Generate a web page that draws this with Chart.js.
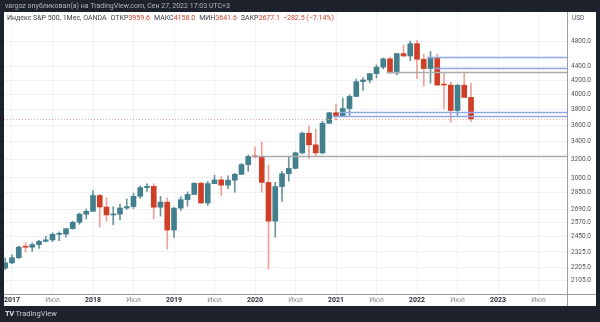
<!DOCTYPE html>
<html lang="ru">
<head>
<meta charset="utf-8">
<title>Индекс S&amp;P 500, 1Мес</title>
<script src="https://cdn.jsdelivr.net/npm/chart.js@4.4.1/dist/chart.umd.min.js"></script>
<style>
  html, body { margin: 0; padding: 0; }
  body { width: 600px; height: 322px; background: #1e222d; position: relative; overflow: hidden; font-family: Roboto, "Noto Sans", sans-serif; }
  #panel { position: absolute; left: 4px; top: 12px; width: 592px; height: 294px; background: #fff; }
  #chart { position: absolute; left: 0; top: 0; }
  .header { position: absolute; left: 5px; top: 2px; font-size: 7px; color: #b2b5be; white-space: nowrap; }
  .legend { position: absolute; left: 7px; top: 14px; font-size: 7px; color: #3b3e48; white-space: nowrap; }
  .legend .k { margin-left: 4px; }
  .legend .v { color: #cf3e27; }
  .legend .chg { margin-left: 3px; }
  .usd { position: absolute; left: 572px; top: 14px; font-size: 6.5px; color: #50535e; }
  .footer { position: absolute; left: 5px; top: 309px; font-size: 7.5px; color: #c8cbd3; white-space: nowrap; }
  .footer b { font-weight: 900; letter-spacing: -0.6px; margin-right: 2px; }
</style>
</head>
<body>
<div id="panel"></div>
<canvas id="chart" width="600" height="322"></canvas>
<div class="header">vargoz опубликовал(а) на TradingView.com, Сен 27, 2022 17:03 UTC+3</div>
<div class="legend">Индекс S&amp;P 500, 1Мес, OANDA<span class="k">ОТКР</span><span class="v" id="lo"></span><span class="k">МАКС</span><span class="v" id="lh"></span><span class="k">МИН</span><span class="v" id="ll"></span><span class="k">ЗАКР</span><span class="v" id="lc"></span><span class="v chg">−282.5 (−7.14%)</span></div>
<div class="usd">USD</div>
<div class="footer"><b>TV</b>TradingView</div>
<script>
// monthly candles, OANDA SPX500 CFD
const months = [
  "2016-12",
  "2017-01", "2017-02", "2017-03", "2017-04", "2017-05", "2017-06", "2017-07", "2017-08", "2017-09", "2017-10", "2017-11", "2017-12",
  "2018-01", "2018-02", "2018-03", "2018-04", "2018-05", "2018-06", "2018-07", "2018-08", "2018-09", "2018-10", "2018-11", "2018-12",
  "2019-01", "2019-02", "2019-03", "2019-04", "2019-05", "2019-06", "2019-07", "2019-08", "2019-09", "2019-10", "2019-11", "2019-12",
  "2020-01", "2020-02", "2020-03", "2020-04", "2020-05", "2020-06", "2020-07", "2020-08", "2020-09", "2020-10", "2020-11", "2020-12",
  "2021-01", "2021-02", "2021-03", "2021-04", "2021-05", "2021-06", "2021-07", "2021-08", "2021-09", "2021-10", "2021-11", "2021-12",
  "2022-01", "2022-02", "2022-03", "2022-04", "2022-05", "2022-06", "2022-07", "2022-08", "2022-09"
];
const opens = [
  2199,
  2239, 2279, 2364, 2363, 2384, 2412, 2423, 2470, 2472, 2519, 2575, 2648,
  2674, 2824, 2714, 2641, 2648, 2705, 2718, 2816, 2902, 2914, 2712, 2760,
  2507, 2704, 2784, 2834, 2946, 2752, 2942, 2980, 2926, 2977, 3038, 3141,
  3231, 3226, 2954, 2585, 2912, 3044, 3100, 3271, 3500, 3363, 3270, 3622,
  3756, 3714, 3811, 3973, 4181, 4204, 4298, 4395, 4523, 4308, 4605, 4567,
  4766, 4516, 4374, 4530, 4138, 4132, 3785, 4130, 3959.6
];
const highs = [
  2278,
  2301, 2372, 2401, 2398, 2419, 2454, 2484, 2491, 2519, 2583, 2658, 2695,
  2873, 2836, 2802, 2717, 2742, 2791, 2848, 2917, 2941, 2940, 2815, 2800,
  2709, 2813, 2860, 2950, 2954, 2964, 3028, 3014, 3022, 3050, 3154, 3248,
  3338, 3394, 3137, 2955, 3069, 3233, 3280, 3515, 3588, 3550, 3646, 3760,
  3871, 3950, 3994, 4219, 4238, 4302, 4430, 4537, 4546, 4608, 4744, 4809,
  4819, 4595, 4637, 4593, 4308, 4178, 4140, 4325, 4158.0
];
const lows = [
  2187,
  2233, 2271, 2322, 2329, 2353, 2405, 2408, 2417, 2446, 2515, 2557, 2605,
  2673, 2533, 2586, 2554, 2595, 2692, 2699, 2796, 2864, 2604, 2631, 2347,
  2444, 2682, 2722, 2834, 2751, 2729, 2942, 2822, 2892, 2856, 3038, 3070,
  3215, 2856, 2192, 2447, 2767, 2966, 3095, 3260, 3209, 3234, 3260, 3620,
  3663, 3714, 3723, 3970, 4057, 4164, 4233, 4368, 4306, 4279, 4560, 4495,
  4223, 4115, 4158, 4124, 3810, 3637, 3723, 3955, 3641.6
];
const closes = [
  2239,
  2279, 2364, 2363, 2384, 2412, 2423, 2470, 2472, 2519, 2575, 2648, 2674,
  2824, 2714, 2641, 2648, 2705, 2718, 2816, 2902, 2914, 2712, 2760, 2507,
  2704, 2784, 2834, 2946, 2752, 2942, 2980, 2926, 2977, 3038, 3141, 3231,
  3226, 2954, 2585, 2912, 3044, 3100, 3271, 3500, 3363, 3270, 3622, 3756,
  3714, 3811, 3973, 4181, 4204, 4298, 4395, 4523, 4308, 4605, 4567, 4766,
  4516, 4374, 4530, 4132, 4132, 3785, 4130, 3959.6, 3677.1
];

const priceTicks = [2105, 2205, 2325, 2450, 2570, 2690, 2850, 3000, 3200, 3400, 3600, 3800, 4000, 4200, 4400, 4800];
const timeLabels = ["2017", "Июл", "2018", "Июл", "2019", "Июл", "2020", "Июл", "2021", "Июл", "2022", "Июл", "2023", "Июл"];

// drawn horizontal levels: price and the month they start from
const levelPrices = [4559, 4380, 4320, 3769, 3710, 3239];
const levelFrom = ["2022-03", "2022-04", "2021-09", "2021-02", "2021-01", "2020-01"];
const levelKinds = ["blue", "blue", "gray", "blue", "blue", "gray"];

const TEAL = "#43808e", RED = "#cf3e27";
const TEAL_WICK = "#6b939c", RED_WICK = "#f0a095";

// months counted from Jan 2017
function monthIndex(m) {
  const [y, mo] = m.split("-").map(Number);
  return (y - 2017) * 12 + (mo - 1);
}

const xs = months.map(monthIndex);
const up = closes.map((c, i) => c >= opens[i]);

const last = closes.length - 1;
document.getElementById("lo").textContent = opens[last].toFixed(1);
document.getElementById("lh").textContent = highs[last].toFixed(1);
document.getElementById("ll").textContent = lows[last].toFixed(1);
document.getElementById("lc").textContent = closes[last].toFixed(1);

const levels = {
  id: "levels",
  afterDatasetsDraw(chart) {
    const { ctx, chartArea, scales: { x, y } } = chart;
    ctx.save();
    ctx.beginPath();
    ctx.rect(chartArea.left, chartArea.top, chartArea.right - chartArea.left, chartArea.bottom - chartArea.top);
    ctx.clip();

    // last price line
    const py = Math.round(y.getPixelForValue(closes[last])) + 0.5;
    ctx.strokeStyle = "#f3a6a1";
    ctx.lineWidth = 1;
    ctx.setLineDash([1, 2]);
    ctx.beginPath();
    ctx.moveTo(chartArea.left, py);
    ctx.lineTo(chartArea.right, py);
    ctx.stroke();
    ctx.setLineDash([]);

    levelPrices.forEach((p, i) => {
      const ly = Math.round(y.getPixelForValue(p)) + 0.5;
      const lx = x.getPixelForValue(monthIndex(levelFrom[i]) - 0.5);
      ctx.strokeStyle = levelKinds[i] === "blue" ? "#8fa9e6" : "#a9abb0";
      ctx.lineWidth = levelKinds[i] === "blue" ? 1.3 : 1.4;
      ctx.beginPath();
      ctx.moveTo(lx, ly);
      ctx.lineTo(chartArea.right, ly);
      ctx.stroke();
    });
    ctx.restore();
  }
};

const frame = {
  id: "frame",
  afterDraw(chart) {
    const { ctx, chartArea } = chart;
    ctx.save();
    ctx.strokeStyle = "#9a9da5";
    ctx.lineWidth = 1;
    ctx.beginPath();
    ctx.moveTo(chartArea.right + 0.5, 12);
    ctx.lineTo(chartArea.right + 0.5, 306);
    ctx.moveTo(4, chartArea.bottom + 0.5);
    ctx.lineTo(596, chartArea.bottom + 0.5);
    ctx.stroke();
    ctx.restore();
  }
};

new Chart(document.getElementById("chart"), {
  type: "bar",
  data: {
    datasets: [
      {
        label: "wick",
        data: xs.map((x, i) => ({ x, y: [lows[i], highs[i]] })),
        backgroundColor: up.map(u => u ? TEAL_WICK : RED_WICK),
        barThickness: 1,
        grouped: false,
        order: 2
      },
      {
        label: "body",
        data: xs.map((x, i) => ({ x, y: [opens[i], closes[i]] })),
        backgroundColor: up.map(u => u ? TEAL : RED),
        barThickness: 5,
        minBarLength: 1,
        grouped: false,
        order: 1
      }
    ]
  },
  options: {
    responsive: false,
    animation: false,
    devicePixelRatio: 1,
    layout: { padding: { left: 4, top: 12, right: 4, bottom: 16 } },
    plugins: { legend: { display: false }, tooltip: { enabled: false } },
    scales: {
      x: {
        type: "linear",
        bounds: "data",
        min: -1.185,
        max: 82.22,
        offset: false,
        grid: { offset: false, color: "#f1f2f5", drawTicks: false },
        border: { display: false },
        ticks: {
          autoSkip: false,
          maxRotation: 0,
          padding: 2,
          font: ctx => ({ family: "Roboto", size: 7, weight: ctx.tick && ctx.tick.value % 12 === 0 ? "bold" : "normal" }),
          color: ctx => ctx.tick && ctx.tick.value % 12 === 0 ? "#2a2e39" : "#8a8d96",
          callback: v => timeLabels[Math.round(v / 6)]
        },
        afterBuildTicks: s => { s.ticks = timeLabels.map((t, i) => ({ value: i * 6 })); },
        afterFit: s => { s.height = 12; }
      },
      y: {
        type: "logarithmic",
        position: "right",
        bounds: "data",
        min: 2011,
        max: 5315,
        grid: { color: "#f1f2f5", drawTicks: false },
        border: { display: false },
        ticks: {
          padding: 4,
          font: { family: "Roboto", size: 6.5 },
          color: "#50535e",
          callback: v => Number(v).toFixed(1)
        },
        afterBuildTicks: s => { s.ticks = priceTicks.map(v => ({ value: v })); },
        afterFit: s => { s.width = 29; }
      }
    }
  },
  plugins: [levels, frame]
});
</script>
</body>
</html>
